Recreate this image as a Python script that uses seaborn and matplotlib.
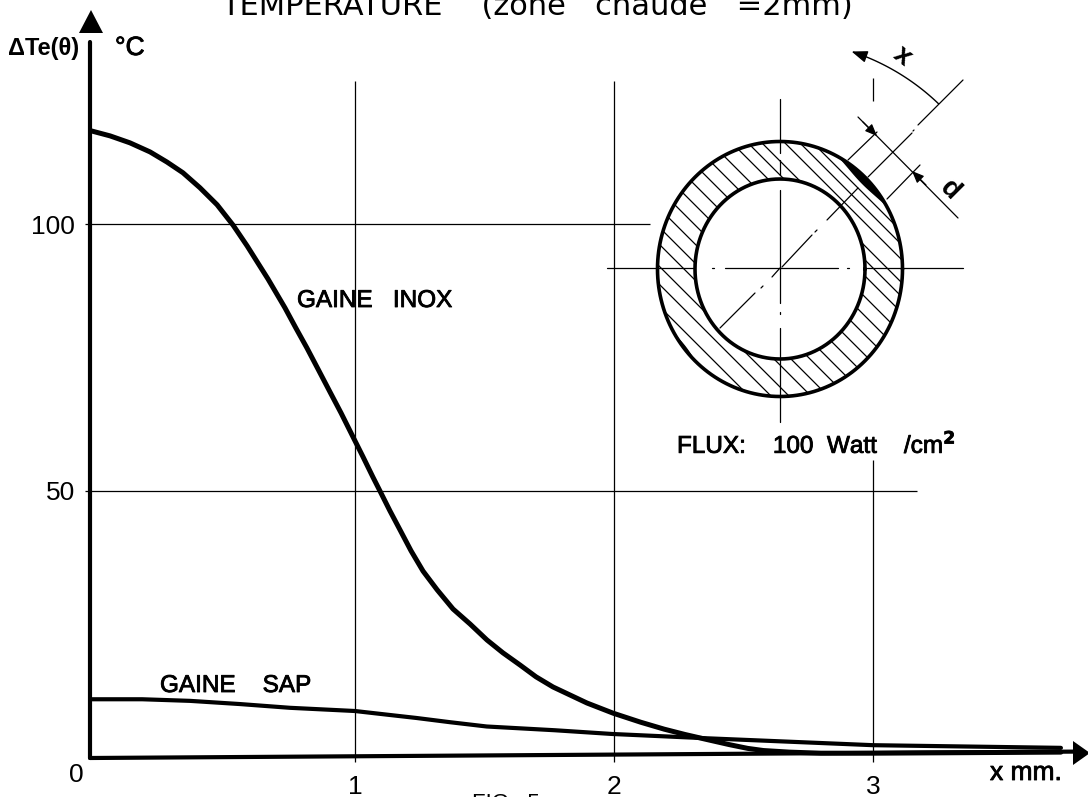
import numpy as np
import matplotlib
matplotlib.use("Agg")
import matplotlib.pyplot as plt
import matplotlib.patheffects as pe
import seaborn as sns

# values
x_inox = [0.0, 0.077, 0.153, 0.23, 0.295, 0.356, 0.421, 0.487, 0.548, 0.602, 0.651, 0.682,
          0.747, 0.789, 0.831, 0.874, 0.92, 0.962, 1.008, 1.046, 1.084, 1.111, 1.149, 1.188,
          1.23, 1.276, 1.33, 1.391, 1.456, 1.521, 1.582, 1.648, 1.709, 1.774, 1.839, 1.904,
          2.004, 2.11, 2.2, 2.28, 2.36, 2.45, 2.52, 2.58, 2.68, 2.8, 3.0, 3.72]
y_inox = [117.5, 116.5, 115.2, 113.5, 111.6, 109.6, 106.8, 103.6, 99.8, 95.9, 92.1, 89.7,
          84.3, 80.5, 76.8, 72.8, 68.5, 64.6, 60.1, 56.4, 52.6, 50.0, 46.3, 42.7,
          38.8, 35.0, 31.5, 27.9, 25.1, 22.1, 19.7, 17.4, 15.2, 13.3, 11.8, 10.3,
          8.4, 6.7, 5.4, 4.4, 3.5, 2.5, 1.8, 1.4, 1.1, 0.9, 0.9, 1.1]
x_sap = [0.0, 0.2, 0.383, 0.575, 0.766, 1.015, 1.15, 1.25, 1.38, 1.52, 1.78, 2.0, 2.36, 3.0, 3.72]
y_sap = [11.0, 11.0, 10.7, 10.1, 9.4, 8.8, 8.05, 7.5, 6.7, 5.9, 5.2, 4.5, 3.7, 2.4, 1.9]
x_tick_pos = [1.015, 2.008, 3]
x_tick_labels = ["1", "2", "3"]
y_ticks = [50, 100]

sns.set_theme(style="white", rc={"text.color": "black", "xtick.color": "black", "ytick.color": "black"})
plt.rcParams["font.family"] = ["Liberation Sans", "DejaVu Sans"]

fig = plt.figure(figsize=(10.88, 7.97), dpi=100)
ax = fig.add_axes([90 / 1088, 39 / 797, 998 / 1088, 748 / 797])
ax.set_xlim(0, 998 / 261)
ax.set_ylim(0, 748 / 5.34)

sns.lineplot(x=x_inox, y=y_inox, ax=ax, color="black", linewidth=3.6, sort=False, estimator=None)
sns.lineplot(x=x_sap, y=y_sap, ax=ax, color="black", linewidth=3.0, sort=False, estimator=None)

# grid lines
ax.vlines(x_tick_pos[:2], -0.7, 126.8, color="black", lw=0.9, clip_on=False)
ax.vlines(x_tick_pos[2], -0.7, 55.8, color="black", lw=0.9, clip_on=False)
ax.vlines(x_tick_pos[2], 123, 127.3, color="black", lw=0.9)
ax.hlines(100, -0.02, 2.146, color="black", lw=0.9, clip_on=False)
ax.hlines(50, -0.02, 3.17, color="black", lw=0.9, clip_on=False)

# axes, the scan is slightly tilted so the x axis is drawn as a line
sns.despine(ax=ax, left=True, bottom=True)
ax.plot([0, 3.78], [0, 1.2], color="black", lw=3.0, clip_on=False, solid_capstyle="round")
ax.plot([0, 0], [0, 134], color="black", lw=3.0, clip_on=False, solid_capstyle="round")

ax.set_xticks(x_tick_pos, x_tick_labels)
ax.set_yticks(y_ticks)
ax.tick_params(axis="x", length=0, pad=12, labelsize=19)
ax.tick_params(axis="y", length=0, pad=11, labelsize=19)

# overlay in image pixels for the sketch and lettering
ov = fig.add_axes([0, 0, 1, 1], facecolor="none")
ov.set_xlim(0, 1088)
ov.set_ylim(797, 0)
ov.axis("off")

ov.fill([91, 79, 103], [10, 33, 33], color="black", lw=0)
ov.fill([1090, 1073, 1073], [753, 741, 765], color="black", lw=0)

cx, cy = 780, 269
t = np.linspace(0, 2 * np.pi, 361)
outer_x, outer_y = cx + 122.5 * np.cos(t), cy + 127.5 * np.sin(t)
inner_x, inner_y = cx + 85 * np.cos(t), cy + 90 * np.sin(t)

ring = matplotlib.path.Path(
    np.vstack([np.c_[outer_x, outer_y], np.c_[inner_x, inner_y][::-1]]),
    np.r_[[1], [2] * 360, [1], [2] * 360],
)
clip = matplotlib.patches.PathPatch(ring, transform=ov.transData, fc="none", ec="none")
ov.add_patch(clip)
for c in [-353, -375, -393, -415, -432, -451, -470, -490, -510, -530, -549, -568,
          -589, -605, -619, -642, -657, -670, -685]:
    ln, = ov.plot([600, 950], [600 + c, 950 + c], color="black", lw=0.9)
    ln.set_clip_path(clip)

ov.plot(outer_x, outer_y, color="black", lw=2.6)
ov.plot(inner_x, inner_y, color="black", lw=2.6)


def crescent(a0, a1, thick):
    a = np.radians(np.linspace(a0, a1, 40))
    f = 1 - thick * np.sin(np.linspace(0, np.pi, 40))
    ox, oy = cx + 122.5 * np.cos(a), cy + 127.5 * np.sin(a)
    ix, iy = cx + 122.5 * f * np.cos(a), cy + 127.5 * f * np.sin(a)
    ov.fill(np.r_[ox, ix[::-1]], np.r_[oy, iy[::-1]], color="black", lw=0)


crescent(-62, -29, 0.055)
crescent(133, 150, 0.02)

segments = [
    # radial centre line
    ((782, 267), (812, 235)), ((815, 232), (817, 230)), ((827, 220), (858, 188)),
    ((868, 177), (912, 133)), ((913, 131), (914, 130)), ((918, 125), (963, 80)),
    ((772, 277), (780, 268)), ((761, 288), (763, 286)), ((755, 293), (720, 328)),
    # horizontal centre line
    ((607, 268), (693, 268)), ((712, 268), (714, 268)), ((725, 268), (838, 268)),
    ((847, 268), (849, 268)), ((867, 268), (963, 268)),
    # vertical centre line
    ((780, 99), (780, 153)), ((780, 160), (780, 175)), ((780, 190), (780, 303)),
    ((780, 312), (780, 314)), ((780, 328), (780, 422)),
    # dimension d
    ((858, 117), (958, 218)), ((848, 160), (877, 132)), ((887, 199), (920, 165)),
]
for (x0, y0), (x1, y1) in segments:
    ov.plot([x0, x1], [y0, y1], color="black", lw=0.9)

for tail, tip in [((863, 122), (877, 136)), ((926, 185), (912, 171))]:
    ov.annotate("", xy=tip, xytext=tail,
                arrowprops=dict(arrowstyle="-|>,head_length=0.6,head_width=0.25", color="black",
                                lw=0.9, shrinkA=0, shrinkB=0))

ang = np.radians(np.linspace(46.2, 71.8, 40))
arc_x, arc_y = cx + 229 * np.cos(ang), cy - 229 * np.sin(ang)
ov.plot(arc_x[:-3], arc_y[:-3], color="black", lw=1.0)
ov.annotate("", xy=(arc_x[-1], arc_y[-1]), xytext=(arc_x[-5], arc_y[-5]),
            arrowprops=dict(arrowstyle="-|>,head_length=0.8,head_width=0.3", color="black",
                            lw=1.0, shrinkA=0, shrinkB=0))

# lettering, a thin stroke makes it as heavy as the scan
heavy = [pe.withStroke(linewidth=0.6, foreground="black")]
ov.text(221, 15, "TEMPERATURE    (zone   chaude   =2mm)", va="baseline", fontsize=22, family="DejaVu Sans")
ov.text(297, 307, "GAINE   INOX", va="baseline", fontsize=17.5, path_effects=heavy)
ov.text(160, 692, "GAINE    SAP", va="baseline", fontsize=17.5, path_effects=heavy)
ov.text(677, 453, "FLUX:    100  Watt    /cm$^{\\mathbf{2}}$", va="baseline", fontsize=17.5, path_effects=heavy)
ov.text(8, 55, "ΔTe(θ)", va="baseline", fontsize=17, fontweight="bold")
ov.text(115, 55, "°C", va="baseline", fontsize=19, path_effects=heavy)
ov.text(76, 775, "0", ha="center", va="center", fontsize=19)
ov.text(990, 780, "x mm.", va="baseline", fontsize=19, path_effects=heavy)
ov.text(472, 809, "FIG.  5", va="baseline", fontsize=16)
ov.text(902, 56, "x", ha="center", va="center", fontsize=20, fontweight="bold", rotation=-38)
ov.text(950, 190, "d", ha="center", va="center", fontsize=20, fontweight="bold", rotation=-45)

fig.savefig("out.png", dpi=100)
